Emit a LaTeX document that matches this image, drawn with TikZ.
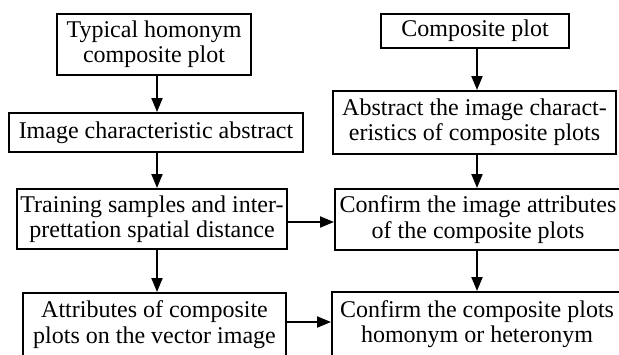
\documentclass[tikz,border=0pt]{standalone}
\usepackage{fontspec}
\setmainfont{Liberation Serif}
\usetikzlibrary{arrows.meta}
\tikzset{
    stage/.style={
        draw,
        line width=1pt,
        align=center,
        inner sep=0pt,
        font=\fontsize{12}{12.7}\selectfont
    },
    flow/.style={-{Triangle[length=7pt,width=5.5pt]}, line width=1pt}
}

\begin{document}
\begin{tikzpicture}[x=0.5pt,y=-0.5pt]
        \useasboundingbox (0,0) rectangle (619,354);
        % left column
        \node[stage,minimum width=97pt,minimum height=30.5pt] (typ) at (154,44.5) {Typical homonym\\composite plot};
        \node[stage,minimum width=147pt,minimum height=19.5pt] (ica) at (156,132.5) {Image characteristic abstract};
        \node[stage,minimum width=135pt,minimum height=30pt] (tsa) at (152,219) {Training samples and inter-\\prettation spatial distance};
        \node[stage,minimum width=131.5pt,minimum height=31.5pt] (acp) at (154.5,324.5) {Attributes of composite\\plots on the vector image};
        % right column
        \node[stage,minimum width=94pt,minimum height=17pt] (cp) at (475,31) {Composite plot};
        \node[stage,minimum width=141.5pt,minimum height=31.5pt] (abs) at (474.5,122.5) {Abstract the image charact-\\eristics of composite plots};
        \node[stage,minimum width=143pt,minimum height=30.5pt] (cia) at (478,219.5) {Confirm the image attributes\\of the composite plots};
        \node[stage,minimum width=145pt,minimum height=32pt] (chh) at (477,324) {Confirm the composite plots\\homonym or heteronym};
        \coordinate (left) at (157,0);
        \coordinate (right) at (477,0);
        \coordinate (rowA) at (0,222);
        \coordinate (rowB) at (0,322);
        \draw[flow] (typ.south -| left) -- (ica.north -| left);
        \draw[flow] (ica.south -| left) -- (tsa.north -| left);
        \draw[flow] (tsa.south -| left) -- (acp.north -| left);
        \draw[flow] (cp.south -| right) -- (abs.north -| right);
        \draw[flow] (abs.south -| right) -- (cia.north -| right);
        \draw[flow] (cia.south -| right) -- (chh.north -| right);
        \draw[flow] (tsa.east |- rowA) -- (cia.west |- rowA);
        \draw[flow] (acp.east |- rowB) -- (chh.west |- rowB);
    \end{tikzpicture}
\end{document}
